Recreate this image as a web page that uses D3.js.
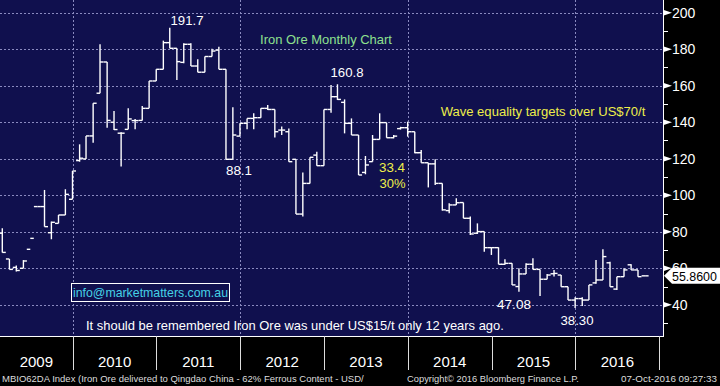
<!DOCTYPE html>
<html>
<head>
<meta charset="utf-8">
<script src="https://cdn.jsdelivr.net/npm/d3@7/dist/d3.min.js"></script>
<style>
  html, body { margin: 0; padding: 0; background: #000; overflow: hidden; }
  svg { display: block; font-family: "Liberation Sans", Arial, sans-serif; }
</style>
</head>
<body>
<div id="chart"></div>
<script>
// monthly bars, Feb 2009 .. Oct 2016
var months = [
  "2009-02", "2009-03", "2009-04", "2009-05", "2009-06", "2009-07", "2009-08", "2009-09", "2009-10", "2009-11", "2009-12",
  "2010-01", "2010-02", "2010-03", "2010-04", "2010-05", "2010-06", "2010-07", "2010-08", "2010-09", "2010-10", "2010-11", "2010-12",
  "2011-01", "2011-02", "2011-03", "2011-04", "2011-05", "2011-06", "2011-07", "2011-08", "2011-09", "2011-10", "2011-11", "2011-12",
  "2012-01", "2012-02", "2012-03", "2012-04", "2012-05", "2012-06", "2012-07", "2012-08", "2012-09", "2012-10", "2012-11", "2012-12",
  "2013-01", "2013-02", "2013-03", "2013-04", "2013-05", "2013-06", "2013-07", "2013-08", "2013-09", "2013-10", "2013-11", "2013-12",
  "2014-01", "2014-02", "2014-03", "2014-04", "2014-05", "2014-06", "2014-07", "2014-08", "2014-09", "2014-10", "2014-11", "2014-12",
  "2015-01", "2015-02", "2015-03", "2015-04", "2015-05", "2015-06", "2015-07", "2015-08", "2015-09", "2015-10", "2015-11", "2015-12",
  "2016-01", "2016-02", "2016-03", "2016-04", "2016-05", "2016-06", "2016-07", "2016-08", "2016-09", "2016-10"
];

var open = [
  79.2, 65.1, 60.5, 60.0, 70.4, 93.8, 93.8, 79.5, 84.6, 89.2, 97.8,
  119.0, 119.9, 132.5, 155.9, 173.0, 140.0, 134.0, 136.1, 140.9, 141.0, 147.6, 162.6,
  169.0, 183.6, 180.5, 172.8, 182.7, 170.8, 167.4, 176.0, 179.5, 169.0, 119.7, 132.4,
  139.4, 142.1, 142.5, 147.6, 147.0, 135.7, 134.8, 119.7, 89.7, 106.5, 122.0, 116.2,
  147.0, 154.0, 150.9, 139.4, 133.0, 112.5, 118.4, 130.6, 139.8, 131.5, 136.5, 137.0,
  134.8, 123.3, 117.8, 117.2, 106.5, 91.6, 94.7, 96.0, 87.4, 79.2, 80.1, 71.3,
  71.3, 62.2, 62.7, 50.0, 56.9, 62.2, 59.4, 54.0, 57.0, 56.3, 49.9, 42.6,
  43.4, 42.6, 52.0, 53.6, 63.0, 48.6, 55.4, 61.9, 59.1, 55.86
];

var high = [
  81.9, 65.1, 61.5, 64.5, null, null, 102.9, 85.6, 89.2, 103.3, 113.3,
  127.9, 132.5, 150.4, 182.7, 173.0, 146.2, 134.5, 147.6, 141.8, 148.9, 162.6, 169.0,
  184.7, 191.7, 180.5, 183.2, 183.2, 174.5, 176.0, 180.3, 181.4, 169.0, 148.2, 139.4,
  142.1, 144.9, 147.6, 149.4, 147.0, 137.6, 136.6, 119.7, 112.4, 120.8, 123.9, 147.0,
  160.4, 160.8, 152.5, 142.1, 133.0, 121.5, 133.0, 144.9, 139.8, 133.0, 137.5, 140.3,
  134.8, 124.8, 117.8, 119.7, 106.5, 95.6, 98.3, 96.0, 88.3, 84.6, 80.1, 71.5,
  71.5, 64.9, 62.7, 60.0, 62.7, 65.5, 59.4, 56.9, 59.1, 56.3, 49.9, 44.1,
  44.1, 50.9, 64.6, 70.4, 63.6, 55.4, 60.0, 62.2, 59.1, 55.86
];

var low = [
  68.7, 59.4, 58.3, 60.0, null, null, 82.8, 75.9, 84.6, 89.2, 97.8,
  118.4, 119.9, 128.8, 155.9, 137.0, 135.8, 115.7, 136.1, 136.1, 140.9, 147.6, 162.6,
  169.0, 180.5, 163.1, 172.3, 170.8, 167.4, 167.4, 176.0, 169.0, 119.7, 119.7, 132.4,
  136.1, 136.1, 142.5, 146.7, 131.7, 133.0, 118.4, 89.7, 88.3, 106.5, 116.2, 116.2,
  145.2, 152.2, 133.9, 133.0, 111.1, 111.5, 118.4, 130.6, 131.5, 131.2, 136.0, 132.1,
  123.0, 117.8, 104.3, 105.6, 91.6, 90.1, 94.7, 87.4, 78.2, 78.8, 69.1, 67.3,
  62.2, 62.0, 50.9, 47.08, 56.9, 59.4, 44.8, 54.0, 55.5, 49.9, 42.6, 38.3,
  39.4, 42.6, 51.5, 53.6, 49.9, 48.1, 55.4, 59.1, 55.4, 55.86
];

var close = [
  68.7, 59.4, 58.8, 64.0, 76.4, 93.8, 82.8, 85.2, 89.2, 100.5, 113.3,
  120.3, 132.5, 150.4, 173.0, 141.0, 136.0, 134.0, 141.8, 140.9, 147.6, 162.6, 169.0,
  183.6, 180.5, 173.2, 182.7, 170.8, 167.4, 176.0, 179.0, 169.0, 119.7, 133.0, 139.4,
  142.1, 142.5, 147.6, 147.0, 134.8, 135.7, 118.4, 89.7, 106.5, 120.8, 116.2, 147.0,
  154.0, 152.5, 139.4, 133.0, 111.1, 116.6, 130.6, 139.8, 131.5, 132.4, 137.0, 134.8,
  123.3, 117.8, 117.2, 106.5, 92.0, 94.7, 95.9, 87.4, 78.8, 80.1, 71.3, 71.3,
  62.2, 62.7, 50.9, 56.9, 62.2, 59.4, 54.0, 56.3, 57.2, 49.9, 42.6, 43.4,
  42.6, 50.9, 53.6, 66.4, 49.9, 55.4, 59.1, 59.1, 55.4, 55.86
];

var yTicks = [40, 60, 80, 100, 120, 140, 160, 180, 200];
var yMinor = [30, 50, 70, 90, 110, 130, 150, 170, 190];
var years = [2009, 2010, 2011, 2012, 2013, 2014, 2015, 2016];
var gridYears = [2010, 2012, 2014, 2016];
var lastPrice = 55.86;

var width = 720,
  height = 386,
  plotW = 663,
  plotH = 336;

var navy = "#10104e",
  gridColor = "#8a8ac0",
  yellow = "#eeee4a";

var svg = d3
  .select("#chart")
  .append("svg")
  .attr("width", width)
  .attr("height", height);

svg
  .append("rect")
  .attr("width", width)
  .attr("height", height)
  .attr("fill", "#000");

svg
  .append("rect")
  .attr("width", plotW)
  .attr("height", plotH)
  .attr("fill", navy);

var parse = d3.timeParse("%Y-%m");

var x = d3
  .scaleTime()
  .domain([new Date(2009, 1, 18), new Date(2017, 0, 17)])
  .range([0, plotW]);

var y = d3
  .scaleLinear()
  .domain([40, 200])
  .range([304.8, 12.7]);

// bars are stamped at month end
var bars = months.map(function(m, i) {
  var start = parse(m);
  return {
    date: d3.timeDay.offset(d3.timeMonth.offset(start, 1), -1),
    o: open[i],
    h: high[i],
    l: low[i],
    c: close[i]
  };
});

// grid
var grid = svg.append("g").attr("stroke", gridColor).attr("stroke-dasharray", "2,2");

grid
  .selectAll("line.h")
  .data(yTicks)
  .enter()
  .append("line")
  .attr("x1", 0)
  .attr("x2", plotW)
  .attr("y1", function(d) {
    return Math.round(y(d)) + 0.5;
  })
  .attr("y2", function(d) {
    return Math.round(y(d)) + 0.5;
  });

grid
  .selectAll("line.v")
  .data(gridYears)
  .enter()
  .append("line")
  .attr("y1", 0)
  .attr("y2", plotH)
  .attr("x1", function(d) {
    return Math.round(x(new Date(d, 0, 1))) + 0.5;
  })
  .attr("x2", function(d) {
    return Math.round(x(new Date(d, 0, 1))) + 0.5;
  });

// OHLC bars
var barG = svg
  .append("g")
  .attr("stroke", "#fff")
  .attr("stroke-width", 1.4);

var bar = barG
  .selectAll("g")
  .data(bars)
  .enter()
  .append("g")
  .attr("transform", function(d) {
    return "translate(" + x(d.date) + ",0)";
  });

bar
  .filter(function(d) {
    return d.h !== null;
  })
  .append("line")
  .attr("x1", 0)
  .attr("x2", 0)
  .attr("y1", function(d) {
    return y(d.h);
  })
  .attr("y2", function(d) {
    return y(d.l);
  });

bar
  .append("line")
  .attr("x1", -3.5)
  .attr("x2", 0)
  .attr("y1", function(d) {
    return y(d.o);
  })
  .attr("y2", function(d) {
    return y(d.o);
  });

bar
  .append("line")
  .attr("x1", 0)
  .attr("x2", 3.5)
  .attr("y1", function(d) {
    return y(d.c);
  })
  .attr("y2", function(d) {
    return y(d.c);
  });

// frame
svg
  .append("line")
  .attr("x1", 0)
  .attr("x2", plotW + 1)
  .attr("y1", plotH + 0.5)
  .attr("y2", plotH + 0.5)
  .attr("stroke", "#fff");

svg
  .append("line")
  .attr("x1", plotW + 0.5)
  .attr("x2", plotW + 0.5)
  .attr("y1", 0)
  .attr("y2", plotH)
  .attr("stroke", "#fff");

// annotations; font size is shrunk until the text fits the wanted width
function note(txt, px, py, color, size, maxW, anchor) {
  var t = svg
    .append("text")
    .attr("x", px)
    .attr("y", py)
    .attr("fill", color)
    .attr("text-anchor", anchor || "middle")
    .style("font-size", size + "px")
    .text(txt);
  if (maxW) {
    var w = t.node().getComputedTextLength();
    if (w > maxW) t.style("font-size", (size * maxW / w).toFixed(2) + "px");
  }
  return t;
}

// right axis
var yAxis = svg.append("g");

yAxis
  .selectAll("line")
  .data(yMinor)
  .enter()
  .append("line")
  .attr("x1", plotW)
  .attr("x2", plotW + 5)
  .attr("y1", function(d) {
    return Math.round(y(d)) + 0.5;
  })
  .attr("y2", function(d) {
    return Math.round(y(d)) + 0.5;
  })
  .attr("stroke", "#fff");

yAxis
  .selectAll("path")
  .data(yTicks)
  .enter()
  .append("path")
  .attr("d", function(d) {
    var ty = y(d);
    return "M" + plotW + "," + (ty - 3) + "L" + (plotW + 9) + "," + ty + "L" + plotW + "," + (ty + 3) + "Z";
  })
  .attr("fill", "#fff");

yAxis
  .selectAll("text")
  .data(yTicks)
  .enter()
  .append("text")
  .attr("x", plotW + 9)
  .attr("y", function(d) {
    return y(d);
  })
  .attr("dy", "0.36em")
  .attr("fill", "#fff")
  .style("font-size", "14px")
  .text(function(d) {
    return d;
  });

// last price flag, drawn over the 60 label like the terminal does
var py = y(lastPrice);
svg
  .append("path")
  .attr("d", "M" + (plotW + 1) + "," + py + "L" + (plotW + 9) + "," + (py - 8) + "L720," + (py - 8) + "L720," + (py + 8) + "L" + (plotW + 9) + "," + (py + 8) + "Z")
  .attr("fill", "#fff");

note(lastPrice.toFixed(4), 672, py + 5, "#000", 14, 45, "start");

// bottom axis
var xAxis = svg.append("g");

xAxis
  .selectAll("line")
  .data(years.slice(1).concat([2017]))
  .enter()
  .append("line")
  .attr("x1", function(d) {
    return Math.round(x(new Date(d, 0, 1))) + 0.5;
  })
  .attr("x2", function(d) {
    return Math.round(x(new Date(d, 0, 1))) + 0.5;
  })
  .attr("y1", plotH)
  .attr("y2", 370)
  .attr("stroke", "#ddd");

xAxis
  .selectAll("text")
  .data(years)
  .enter()
  .append("text")
  .attr("x", function(d) {
    var a = Math.max(0, x(new Date(d, 0, 1)));
    var b = Math.min(plotW, x(new Date(d + 1, 0, 1)));
    return (a + b) / 2;
  })
  .attr("y", 367)
  .attr("text-anchor", "middle")
  .attr("fill", "#fff")
  .style("font-size", "15px")
  .text(function(d) {
    return d;
  });

note("191.7", 187, 25, "#fff", 15, 33);
note("160.8", 347, 77, "#fff", 15, 33);
note("88.1", 239, 175, "#fff", 15, 26);
note("47.08", 514, 309, "#fff", 15, 34);
note("38.30", 577, 325, "#fff", 15, 33);
note("33.4", 392, 171.5, yellow, 15, 26);
note("30%", 392.5, 188, yellow, 15, 26);
note("Iron Ore Monthly Chart", 326, 44, "#8ee08e", 14, 132);
note("Wave equality targets over US$70/t", 543, 116, yellow, 14, 205);
note("It should be remembered Iron Ore was under US$15/t only 12 years ago.", 86, 329.5, "#fff", 15, 418, "start");

svg
  .append("rect")
  .attr("x", 71.5)
  .attr("y", 283.5)
  .attr("width", 158)
  .attr("height", 18)
  .attr("fill", navy)
  .attr("stroke", "#fff");
note("info@marketmatters.com.au", 150.5, 297, "#45d2e6", 14, 155);

// footer
note("MBIO62DA Index (Iron Ore delivered to Qingdao China - 62% Ferrous Content - USD/", 2, 382, "#ddd", 11, 362, "start");
note("Copyright\u00a9 2016 Bloomberg Finance L.P.", 407, 382, "#ddd", 11, 172, "start");
note("07-Oct-2016 09:27:33", 717, 382, "#ddd", 11, 96, "end");
</script>
</body>
</html>
